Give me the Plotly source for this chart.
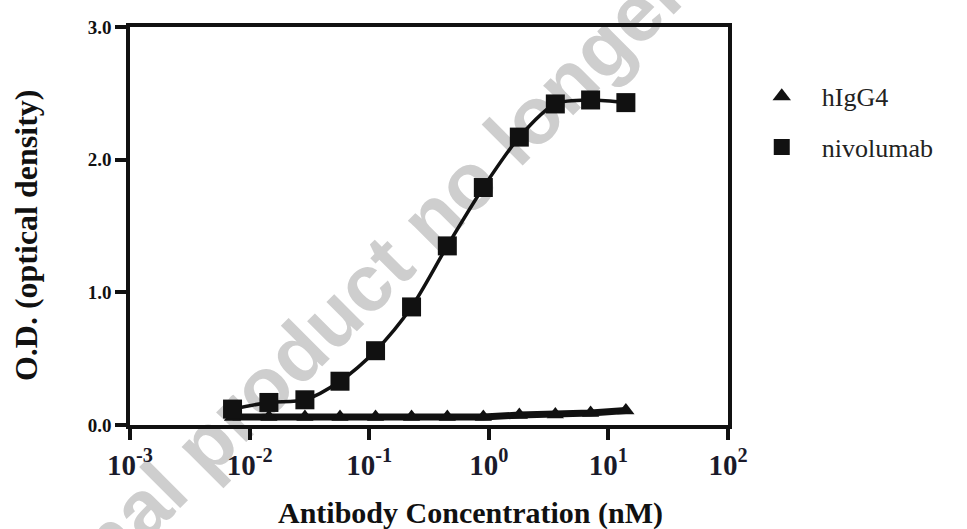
import plotly.graph_objects as go

# Antibody concentration (nM), 2-fold dilution series
conc = [0.0072, 0.0145, 0.029, 0.057, 0.113, 0.226, 0.45, 0.9, 1.8, 3.6, 7.1, 14.0]
nivolumab = [0.12, 0.17, 0.19, 0.33, 0.56, 0.89, 1.35, 1.79, 2.17, 2.42, 2.45, 2.43]
higg4 = [0.06, 0.06, 0.06, 0.06, 0.06, 0.06, 0.06, 0.06, 0.075, 0.08, 0.09, 0.11]

xtick_vals = [0.001, 0.01, 0.1, 1, 10, 100]
xtick_text = ["10<sup>-3</sup>", "10<sup>-2</sup>", "10<sup>-1</sup>",
              "10<sup>0</sup>", "10<sup>1</sup>", "10<sup>2</sup>"]
ytick_vals = [0, 1, 2, 3]
ytick_text = ["0.0", "1.0", "2.0", "3.0"]

SERIF = "Liberation Serif, Times New Roman, serif"
INK = "#111111"

fig = go.Figure()

# hIgG4 connecting line
fig.add_trace(go.Scatter(x=conc, y=higg4, mode="lines",
                         line=dict(color=INK, width=7),
                         showlegend=False, hoverinfo="skip"))
# nivolumab fitted curve
fig.add_trace(go.Scatter(x=conc, y=nivolumab, mode="lines",
                         line=dict(color=INK, width=3.5, shape="spline", smoothing=0.8),
                         showlegend=False, hoverinfo="skip"))
# data markers
fig.add_trace(go.Scatter(x=conc, y=higg4, mode="markers", name="hIgG4",
                         showlegend=False,
                         marker=dict(symbol="triangle-up", size=15, color=INK)))
fig.add_trace(go.Scatter(x=conc, y=nivolumab, mode="markers", name="nivolumab",
                         showlegend=False,
                         marker=dict(symbol="square", size=19, color=INK)))
# legend entries (larger symbols, no data)
fig.add_trace(go.Scatter(x=[None], y=[None], mode="markers", name="hIgG4",
                         legendgroup="a",
                         marker=dict(symbol="triangle-up", size=18, color=INK)))
fig.add_trace(go.Scatter(x=[None], y=[None], mode="markers", name="nivolumab",
                         legendgroup="b",
                         marker=dict(symbol="square", size=17, color=INK)))

fig.update_layout(
    width=967, height=529,
    margin=dict(l=130, r=239, t=27, b=104),
    paper_bgcolor="white",
    plot_bgcolor="rgba(0,0,0,0)",
    showlegend=True,
    legend=dict(x=1.023, y=0.885, xanchor="left", yanchor="top",
                font=dict(family=SERIF, size=26, color="#222222"),
                tracegroupgap=14, traceorder="grouped",
                bgcolor="rgba(0,0,0,0)", itemwidth=70),
    xaxis=dict(type="log", range=[-3, 2], tickvals=xtick_vals, ticktext=xtick_text,
               showgrid=False, zeroline=False,
               showline=True, linecolor=INK, linewidth=3.5, mirror=True,
               ticks="outside", ticklen=11, tickwidth=3.5, tickcolor=INK,
               tickfont=dict(family=SERIF, size=29, color="#1a1a2a", weight="bold")),
    yaxis=dict(range=[0, 3], tickvals=ytick_vals, ticktext=ytick_text,
               showgrid=False, zeroline=False,
               showline=True, linecolor=INK, linewidth=3.5, mirror=True,
               ticks="outside", ticklen=11, tickwidth=3.5, tickcolor=INK,
               tickfont=dict(family=SERIF, size=19, color=INK, weight="bold")),
    annotations=[
        dict(text="Antibody Concentration (nM)", xref="paper", yref="paper",
             x=0.569, y=-0.222, xanchor="center", yanchor="middle", showarrow=False,
             font=dict(family=SERIF, size=30, color=INK, weight="bold")),
        dict(text="O.D. (optical density)", xref="paper", yref="paper",
             x=-0.174, y=0.477, xanchor="center", yanchor="middle", showarrow=False,
             textangle=-90,
             font=dict(family=SERIF, size=32, color=INK, weight="bold")),
    ],
    shapes=[
        dict(type="rect", xref="paper", yref="paper",
             x0=0.509, x1=0.529, y0=0.561, y1=0.581,
             line=dict(width=0), fillcolor="rgba(0,0,0,0)", layer="below",
             label=dict(text="Medicinal product no longer authorised",
                        textangle=-45, textposition="middle center",
                        font=dict(family="Liberation Sans, Arial, sans-serif",
                                  size=80, color="#cecece", weight="bold"))),
    ],
)

fig.write_html("out.html")
